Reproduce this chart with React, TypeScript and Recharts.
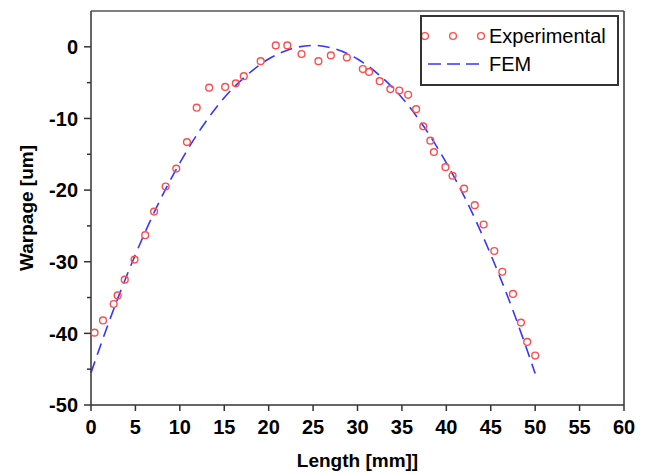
import { ComposedChart, Scatter, Line, XAxis, YAxis, Legend, ReferenceLine, Label } from "recharts";

const expLength = [
  0.4, 1.35, 2.55, 3.0, 3.8, 4.9, 6.1, 7.1, 8.4, 9.6, 10.8, 11.9, 13.3, 15.1, 16.3,
  17.2, 19.1, 20.8, 22.1, 23.7, 25.6, 27.0, 28.8, 30.6, 31.3, 32.5, 33.7, 34.7, 35.7,
  36.6, 37.4, 38.2, 38.6, 39.9, 40.7, 42.0, 43.2, 44.2, 45.4, 46.3, 47.5, 48.4, 49.1, 50.0,
];
const expWarpage = [
  -39.9, -38.2, -35.9, -34.7, -32.5, -29.7, -26.3, -23.0, -19.5, -17.0, -13.3, -8.5, -5.7,
  -5.6, -5.1, -4.1, -2.0, 0.2, 0.2, -1.0, -2.0, -1.2, -1.5, -3.1, -3.5, -4.8, -5.9, -6.1,
  -6.7, -8.7, -11.1, -13.1, -14.7, -16.8, -18.0, -19.8, -22.1, -24.8, -28.5, -31.4, -34.5,
  -38.5, -41.2, -43.1,
];

const femLength = [0, 2.5, 5, 7.5, 10, 12.5, 15, 17.5, 20, 22.5, 25, 27.5, 30, 32.5, 35, 37.5, 40, 42.5, 45, 47.5, 50];
const femWarpage = [
  -45.5, -36.8, -29.0, -22.1, -16.2, -11.2, -7.1, -4.0, -1.7, -0.3, 0.2, -0.3, -1.7, -4.0,
  -7.1, -11.2, -16.2, -22.1, -29.0, -36.8, -45.6,
];

const xTicks = [0, 5, 10, 15, 20, 25, 30, 35, 40, 45, 50, 55, 60];
const yTicks = [-50, -45, -40, -35, -30, -25, -20, -15, -10, -5, 0];

const expData = expLength.map((x, i) => ({ x, y: expWarpage[i] }));
const femData = femLength.map((x, i) => ({ x, y: femWarpage[i] }));

const FONT = '"Liberation Sans", Arial, sans-serif';
const AXIS = "#333333";
const RED = "#ff4d4d";
const BLUE = "#3636ff";

function Ring(props: any) {
  const { cx, cy } = props;
  if (cx == null || cy == null) return null;
  return <circle cx={cx} cy={cy} r={3.4} fill="none" stroke={RED} strokeWidth={1.4} />;
}

const TICK_SIZE = 7;
const TICK_MARGIN = 6;

function YTick(props: any) {
  const { x, y, payload } = props;
  const axisX = x + TICK_SIZE + TICK_MARGIN;
  const major = payload.value % 10 === 0;
  return (
    <g>
      <line x1={axisX - (major ? TICK_SIZE : 4)} x2={axisX} y1={y} y2={y} stroke={AXIS} strokeWidth={1.5} />
      {major && (
        <text x={x} y={y} dy="0.36em" textAnchor="end" fontFamily={FONT} fontWeight="bold" fontSize={20} fill="#000">
          {payload.value}
        </text>
      )}
    </g>
  );
}

function LegendBox() {
  return (
    <div
      style={{
        width: 199,
        height: 71,
        border: "2px solid #333",
        boxSizing: "border-box",
        background: "#fff",
      }}
    >
      <svg width={195} height={67} style={{ position: "absolute", left: 2, top: 2 }}>
        <circle cx={3} cy={19} r={3.4} fill="none" stroke={RED} strokeWidth={1.4} />
        <circle cx={31} cy={19} r={3.4} fill="none" stroke={RED} strokeWidth={1.4} />
        <circle cx={59} cy={19} r={3.4} fill="none" stroke={RED} strokeWidth={1.4} />
        <line x1={6} x2={57} y1={47} y2={47} stroke={BLUE} strokeWidth={1.6} strokeDasharray="13 6" />
        <text x={67} y={19} dy="0.36em" fontFamily={FONT} fontSize={20} fill="#000">Experimental</text>
        <text x={67} y={47} dy="0.36em" fontFamily={FONT} fontSize={20} fill="#000">FEM</text>
      </svg>
    </div>
  );
}

export default function App() {
  return (
    <div style={{ position: "absolute", left: 0, top: 0, background: "#fff" }}>
      <ComposedChart width={648} height={476} margin={{ top: 11, right: 24, bottom: 26, left: 10 }}>
        <XAxis
          dataKey="x"
          type="number"
          domain={[0, 60]}
          ticks={xTicks}
          interval={0}
          tickSize={6}
          tickMargin={9}
          height={45}
          axisLine={{ stroke: AXIS, strokeWidth: 1.5 }}
          tickLine={{ stroke: AXIS, strokeWidth: 1.5 }}
          tick={{ fontFamily: FONT, fontWeight: "bold", fontSize: 20, fill: "#000" }}
        >
          <Label value="Length [mm]]" position="bottom" offset={4} style={{ fontFamily: FONT, fontWeight: "bold", fontSize: 19, fill: "#000" }} />
        </XAxis>
        <YAxis
          dataKey="y"
          type="number"
          domain={[-50, 5]}
          ticks={yTicks}
          interval={0}
          width={81}
          tickSize={TICK_SIZE}
          tickMargin={TICK_MARGIN}
          axisLine={{ stroke: AXIS, strokeWidth: 1.5 }}
          tickLine={false}
          tick={<YTick />}
        >
          <Label
            value="Warpage [um]"
            angle={-90}
            position="insideLeft"
            offset={16}
            style={{ textAnchor: "middle", fontFamily: FONT, fontWeight: "bold", fontSize: 19, fill: "#000" }}
          />
        </YAxis>
        <ReferenceLine y={5} stroke="#555" strokeWidth={1.5} />
        <ReferenceLine x={60} stroke={AXIS} strokeWidth={1.5} />
        <Line
          data={femData}
          dataKey="y"
          type="monotone"
          stroke={BLUE}
          strokeWidth={1.6}
          strokeDasharray="12 7"
          dot={false}
          activeDot={false}
          name="FEM"
          isAnimationActive={false}
        />
        <Scatter data={expData} dataKey="y" name="Experimental" shape={<Ring />} isAnimationActive={false} />
        <Legend
          layout="vertical"
          align="center"
          verticalAlign="middle"
          content={() => <LegendBox />}
          wrapperStyle={{ left: 420, top: 15, width: 199, height: 71 }}
        />
      </ComposedChart>
    </div>
  );
}
